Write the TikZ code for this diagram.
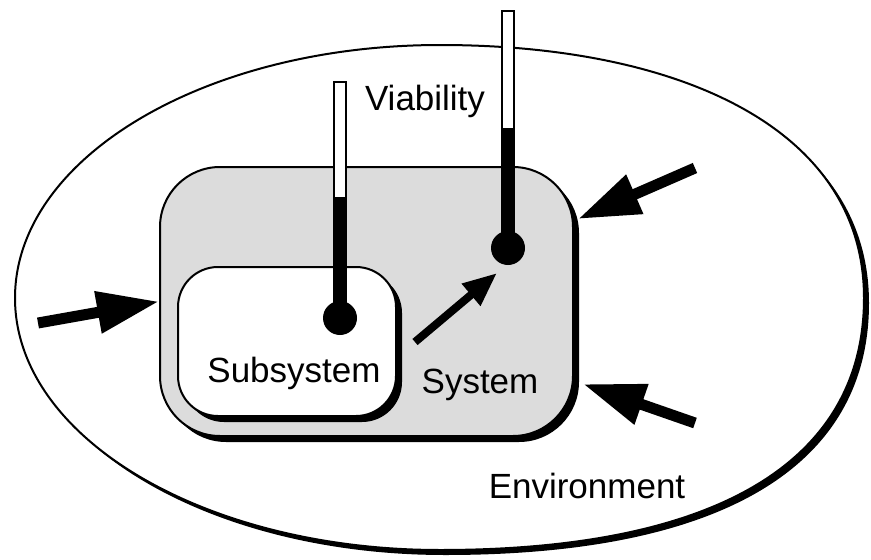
\documentclass[tikz,border=0pt]{standalone}
\usepackage{fontspec}
\setmainfont{Liberation Sans}
\usetikzlibrary{arrows.meta,shadows,positioning}
\definecolor{sysgray}{RGB}{220,220,220}
\tikzset{
  envline/.style = {draw=black, line width=2pt, fill=white,
    drop shadow={fill=black, opacity=1, shadow xshift=5pt, shadow yshift=-5pt}},
  sysbox/.style = {rectangle, draw=black, line width=2pt, inner sep=0pt,
    rounded corners=60pt, fill=sysgray,
    drop shadow={fill=black, opacity=1, shadow xshift=6pt, shadow yshift=-6pt}},
  subbox/.style = {sysbox, rounded corners=40pt, fill=white},
  column/.style = {draw=black, line width=2pt, fill=white},
  bulb/.style = {circle, fill=black, inner sep=0pt, minimum size=34pt},
  lbl/.style = {anchor=base, inner sep=0pt, text=black,
    font=\fontsize{35}{40}\selectfont},
  bigarrow/.style = {line width=11pt, -{Triangle[length=62pt, width=40pt]}},
  smallarrow/.style = {line width=8pt, -{Triangle[length=34pt, width=27pt]}}
}
\begin{document}
\begin{tikzpicture}[x=1pt, y=-1pt]
\useasboundingbox (0,0) rectangle (871,560);

% environment
\coordinate (eW) at (15,298);
\coordinate (eN) at (440,45);
\coordinate (eE) at (864,298);
\coordinate (eS) at (440,550);
\draw[envline] (eW) .. controls (15,158) and (205,45) .. (eN)
  .. controls (675,45) and (864,126) .. (eE)
  .. controls (864,462) and (716,550) .. (eS)
  .. controls (205,550) and (15,438) .. (eW) -- cycle;

\node[sysbox, minimum width=413pt, minimum height=269pt] (sys) at (366.5,301.5) {};
\node[subbox, minimum width=218pt, minimum height=149pt] (sub) at (287,341.5) {};

% thermometers
\draw[column] (334,82) rectangle (346,318);
\fill (333,197) rectangle (347,318);
\node[bulb] (t1) at (340,318) {};
\draw[column] (502,11) rectangle (514,248);
\fill (501,128) rectangle (515,248);
\node[bulb] (t2) at (508,248) {};

% labels
\node[lbl] (via) at (425,110) {Viability};
\node[lbl] (subl) at (294,382) {Subsystem};
\node[lbl] (sysl) at (480,393) {System};
\node[lbl] (envl) at (587,498) {Environment};

% arrows
\coordinate (inL) at (38,323);
\coordinate (inUR) at (695,168);
\coordinate (hitUR) at (578,219);
\coordinate (inLR) at (695,423);
\coordinate (hitLR) at (583,384);
\coordinate (out) at (415,342);
\coordinate (hitT) at (497,273);
\draw[bigarrow] (inL) -- (sys.west);
\draw[bigarrow] (inUR) -- (hitUR);
\draw[bigarrow] (inLR) -- (hitLR);
\draw[smallarrow] (out) -- (hitT);
\end{tikzpicture}
\end{document}
